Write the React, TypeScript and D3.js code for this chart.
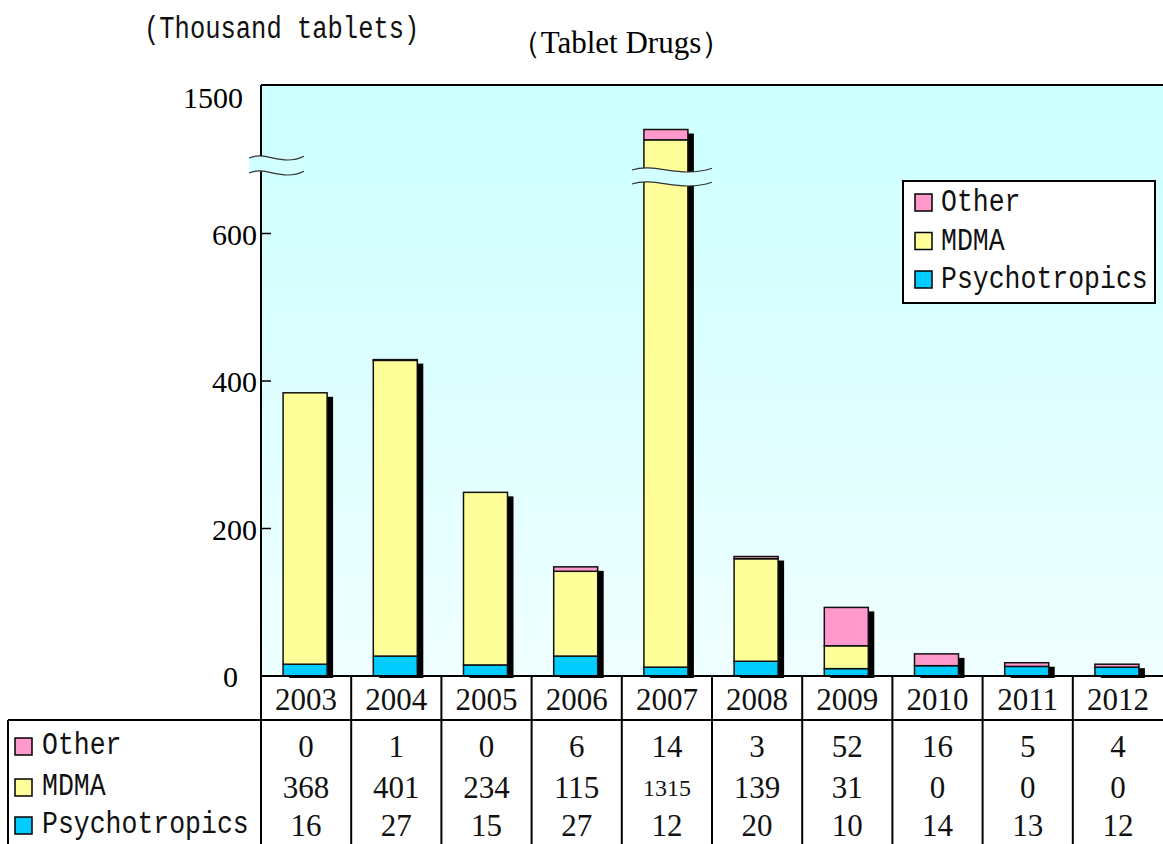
import React from "react";
import * as d3 from "d3";

const categories = ["2003", "2004", "2005", "2006", "2007", "2008", "2009", "2010", "2011", "2012"];
const otherValues = [0, 1, 0, 6, 14, 3, 52, 16, 5, 4];
const mdmaValues = [368, 401, 234, 115, 1315, 139, 31, 0, 0, 0];
const psychValues = [16, 27, 15, 27, 12, 20, 10, 14, 13, 12];
const yTicks = [0, 200, 400, 600];
const yTopLabel = "1500";
const seriesNames = ["Other", "MDMA", "Psychotropics"];
const seriesColors = ["#FF99CC", "#FFFF99", "#00CCFF"];

const W = 1163;
const H = 844;
const plotL = 261;
const plotR = 1163;
const plotT = 85;
const plotB = 676;
const breakAt = 680;
const gap = 600;

const SERIF = "'Liberation Serif', 'Times New Roman', serif";
const MONO = "'Liberation Mono', 'Courier New', monospace";

const base = d3.scaleLinear().domain([0, 800]).range([plotB, plotT + 1]);
const y = (v: number) => base(v > breakAt ? v - gap : v);
const x = d3.scaleBand().domain(categories).range([plotL, plotR]).paddingInner(0).paddingOuter(0);

function wave(x0: number, x1: number, y0: number, a: number) {
  const w = x1 - x0;
  return `M${x0},${y0} C${x0 + w * 0.3},${y0 - a * 2.2} ${x0 + w * 0.6},${y0 + a * 2.6} ${x1},${y0 - a * 0.5}`;
}
function waveBand(x0: number, x1: number, y0: number, a: number, d: number) {
  const w = x1 - x0;
  return (
    `M${x0},${y0} C${x0 + w * 0.3},${y0 - a * 2.2} ${x0 + w * 0.6},${y0 + a * 2.6} ${x1},${y0 - a * 0.5}` +
    ` L${x1},${y0 - a * 0.5 + d} C${x0 + w * 0.6},${y0 + a * 2.6 + d} ${x0 + w * 0.3},${y0 - a * 2.2 + d} ${x0},${y0 + d} Z`
  );
}

function Mono({ x: tx, y: ty, size, children }: { x: number; y: number; size: number; children: React.ReactNode }) {
  return (
    <text transform={`translate(${tx},${ty}) scale(1,1.2)`} fontFamily={MONO} fontSize={size} fill="#111">
      {children}
    </text>
  );
}

export default function App() {
  const bw = 44;
  const stacks = categories.map((c, i) => {
    const segs = [psychValues[i], mdmaValues[i], otherValues[i]];
    let acc = 0;
    const out = segs.map((v, k) => {
      const y0 = acc;
      acc += v;
      return { k, y0, y1: acc, v };
    });
    return { c, i, segs: out, total: acc };
  });
  const colorOf = (k: number) => seriesColors[2 - k];
  const bx = (c: string) => (x(c) as number) + x.bandwidth() / 2 - bw / 2 - 1;
  const cBreak = categories[4];
  const rowY = [746, 787, 825];
  const colEdges = categories.map((c) => x(c) as number);

  return (
    <svg width={W} height={H} style={{ position: "absolute", left: 0, top: 0, background: "#fff" }}>
      <defs>
        <linearGradient id="bg" x1="0" y1="0" x2="0" y2="1">
          <stop offset="0" stopColor="#CCFFFF" />
          <stop offset="1" stopColor="#F0FFFF" />
        </linearGradient>
      </defs>
      <rect x={plotL} y={plotT} width={plotR - plotL} height={plotB - plotT} fill="url(#bg)" />
      <Mono x={144} y={38} size={25.5}>(Thousand tablets)</Mono>
      <text x={621} y={53} fontFamily={SERIF} fontSize={31} textAnchor="middle" fill="#000">
        （Tablet Drugs）
      </text>

      {/* shadows */}
      {stacks.map((s) => (
        <rect key={"sh" + s.c} x={bx(s.c) + 6} y={y(s.total) + 4} width={bw} height={plotB + 2 - (y(s.total) + 4)} fill="#000" />
      ))}
      {/* bars */}
      {stacks.map((s) =>
        s.segs
          .filter((g) => g.v > 0)
          .map((g) => (
            <rect
              key={s.c + g.k}
              x={bx(s.c)}
              y={y(g.y1)}
              width={bw}
              height={y(g.y0) - y(g.y1)}
              fill={colorOf(g.k)}
              stroke="#111"
              strokeWidth={1.5}
            />
          ))
      )}

      {/* axes */}
      <line x1={plotL} y1={plotT} x2={plotR} y2={plotT} stroke="#000" strokeWidth={2} />
      <line x1={plotL} y1={plotT} x2={plotL} y2={plotB} stroke="#000" strokeWidth={2} />
      <line x1={plotL} y1={plotB} x2={plotR} y2={plotB} stroke="#000" strokeWidth={2} />
      {yTicks.map((t) => (
        <g key={t}>
          {t > 0 && <line x1={plotL} x2={plotL + 10} y1={y(t)} y2={y(t)} stroke="#000" strokeWidth={1.5} />}
          <text x={t === 0 ? 238 : 257} y={y(t) + 11} fontFamily={SERIF} fontSize={30} textAnchor="end" fill="#000">
            {t}
          </text>
        </g>
      ))}
      <text x={243} y={plotT + 23} fontFamily={SERIF} fontSize={30} textAnchor="end" fill="#000">
        {yTopLabel}
      </text>

      {/* break marks */}
      <path d={waveBand(249, 304, 158, 3.5, 15)} fill="#D2FFFF" />
      <path d={wave(249, 304, 158, 3.5)} fill="none" stroke="#333" strokeWidth={1.2} />
      <path d={wave(249, 304, 173, 3.5)} fill="none" stroke="#333" strokeWidth={1.2} />
      <path d={waveBand(bx(cBreak) - 12, bx(cBreak) + bw + 24, 170, 3.5, 14)} fill="#D2FFFF" />
      <path d={wave(bx(cBreak) - 12, bx(cBreak) + bw + 24, 170, 3.5)} fill="none" stroke="#333" strokeWidth={1.2} />
      <path d={wave(bx(cBreak) - 12, bx(cBreak) + bw + 24, 184, 3.5)} fill="none" stroke="#333" strokeWidth={1.2} />

      {/* legend */}
      <rect x={903} y={181} width={252} height={122} fill="#fff" stroke="#000" strokeWidth={2} />
      {seriesNames.map((n, i) => (
        <g key={n}>
          <rect x={915} y={194 + i * 38.5} width={17} height={17} fill={seriesColors[i]} stroke="#000" strokeWidth={1.5} />
          <Mono x={941} y={211 + i * 38.5} size={26.5}>
            {n}
          </Mono>
        </g>
      ))}

      {/* data table */}
      <line x1={8} y1={720} x2={plotR} y2={720} stroke="#000" strokeWidth={2} />
      <line x1={8} y1={720} x2={8} y2={H} stroke="#000" strokeWidth={2} />
      {colEdges.map((e, i) => (
        <line key={"v" + i} x1={e} x2={e} y1={plotB} y2={H} stroke="#000" strokeWidth={2} />
      ))}
      {categories.map((c) => (
        <text key={"yr" + c} x={(x(c) as number) + x.bandwidth() / 2} y={710} fontFamily={SERIF} fontSize={31} textAnchor="middle" fill="#111">
          {c}
        </text>
      ))}
      {seriesNames.map((n, r) => (
        <g key={"row" + n}>
          <rect x={15} y={rowY[r] - 8} width={17} height={17} fill={seriesColors[r]} stroke="#000" strokeWidth={1.5} />
          <Mono x={42} y={rowY[r] + 8} size={26.5}>
            {n}
          </Mono>
        </g>
      ))}
      {[otherValues, mdmaValues, psychValues].map((arr, r) =>
        arr.map((v, i) => (
          <text
            key={"c" + r + i}
            x={(x(categories[i]) as number) + x.bandwidth() / 2}
            y={rowY[r] + (v >= 1000 ? 9 : 11)}
            fontFamily={SERIF}
            fontSize={v >= 1000 ? 24 : 31}
            textAnchor="middle"
            fill="#111"
          >
            {v}
          </text>
        ))
      )}
    </svg>
  );
}
